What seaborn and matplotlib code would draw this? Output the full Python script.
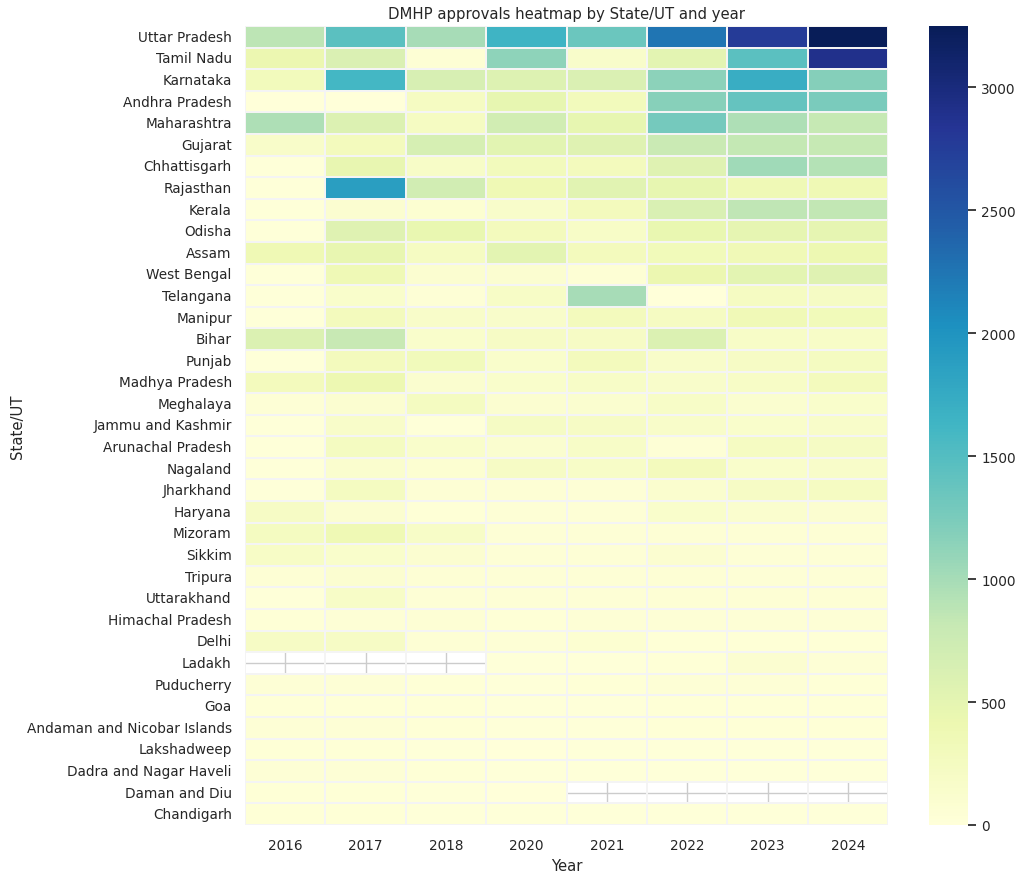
import numpy as np
import pandas as pd
import seaborn as sns
import matplotlib.pyplot as plt

nan = np.nan

states = ['Uttar Pradesh', 'Tamil Nadu', 'Karnataka', 'Andhra Pradesh', 'Maharashtra',
          'Gujarat', 'Chhattisgarh', 'Rajasthan', 'Kerala', 'Odisha', 'Assam',
          'West Bengal', 'Telangana', 'Manipur', 'Bihar', 'Punjab', 'Madhya Pradesh',
          'Meghalaya', 'Jammu and Kashmir', 'Arunachal Pradesh', 'Nagaland', 'Jharkhand',
          'Haryana', 'Mizoram', 'Sikkim', 'Tripura', 'Uttarakhand', 'Himachal Pradesh',
          'Delhi', 'Ladakh', 'Puducherry', 'Goa', 'Andaman and Nicobar Islands',
          'Lakshadweep', 'Dadra and Nagar Haveli', 'Daman and Diu', 'Chandigarh']

years = [2016, 2017, 2018, 2020, 2021, 2022, 2023, 2024]

y2016 = [870, 430, 300, 10, 960, 170, 20, 20, 20, 20, 370, 20, 15, 20, 600, 20, 280, 50, 20,
         20, 20, 20, 210, 250, 200, 60, 20, 30, 210, nan, 40, 30, 40, 30, 50, 30, 30]
y2017 = [1450, 620, 1600, 10, 590, 280, 460, 1880, 90, 570, 460, 360, 140, 280, 800, 280, 400,
         90, 170, 250, 120, 250, 90, 380, 140, 100, 190, 40, 210, nan, 40, 30, 40, 30, 40, 30, 30]
y2018 = [1000, 60, 640, 230, 240, 650, 180, 700, 80, 450, 240, 90, 40, 170, 150, 310, 110, 250,
         20, 150, 80, 60, 30, 190, 100, 60, 40, 60, 60, nan, 30, 30, 30, 20, 30, 20, 20]
y2020 = [1650, 1130, 580, 470, 700, 530, 300, 380, 160, 280, 520, 90, 200, 160, 210, 150, 150,
         100, 220, 110, 210, 60, 50, 50, 40, 40, 40, 30, 40, 20, 20, 20, 20, 10, 20, 10, 20]
y2021 = [1350, 160, 620, 300, 480, 560, 280, 540, 290, 180, 280, 60, 1000, 290, 210, 290, 190,
         110, 210, 190, 180, 40, 40, 40, 40, 40, 50, 40, 80, 20, 30, 20, 20, 20, 20, nan, 20]
y2022 = [2250, 520, 1150, 1170, 1290, 780, 560, 480, 630, 450, 320, 430, 10, 230, 600, 170, 160,
         190, 170, 50, 280, 120, 150, 60, 90, 60, 60, 40, 30, 30, 40, 30, 30, 20, 20, nan, 20]
y2023 = [2780, 1450, 1720, 1390, 960, 830, 1030, 360, 860, 490, 350, 520, 240, 350, 190, 210, 200,
         110, 140, 240, 150, 210, 120, 60, 50, 50, 60, 40, 30, 100, 40, 30, 30, 20, 20, nan, 20]
y2024 = [3250, 2900, 1190, 1250, 820, 820, 920, 380, 850, 490, 400, 560, 220, 330, 180, 250, 280,
         140, 170, 220, 170, 230, 100, 60, 40, 50, 60, 40, 30, 40, 30, 30, 30, 20, 20, nan, 20]

df = pd.DataFrame(dict(zip(years, [y2016, y2017, y2018, y2020, y2021, y2022, y2023, y2024])),
                  index=states)
df.index.name = 'State/UT'
df.columns.name = 'Year'

sns.set_theme(style='whitegrid', font_scale=0.89)

fig = plt.figure(figsize=(10.24, 8.79), dpi=100)
ax = fig.add_axes([0.2393, 0.0603, 0.628, 0.909])
cax = fig.add_axes([0.9072, 0.0603, 0.0381, 0.909])

sns.heatmap(df, cmap='YlGnBu', vmin=0, linewidths=0.15, linecolor='#f4f4f4',
            ax=ax, cbar_ax=cax)
ax.set_title('DMHP approvals heatmap by State/UT and year')
ax.tick_params(axis='y', labelrotation=0)
ax.tick_params(axis='x', labelrotation=0)
ax.yaxis.labelpad = 1

plt.savefig('out.png', dpi=100)
